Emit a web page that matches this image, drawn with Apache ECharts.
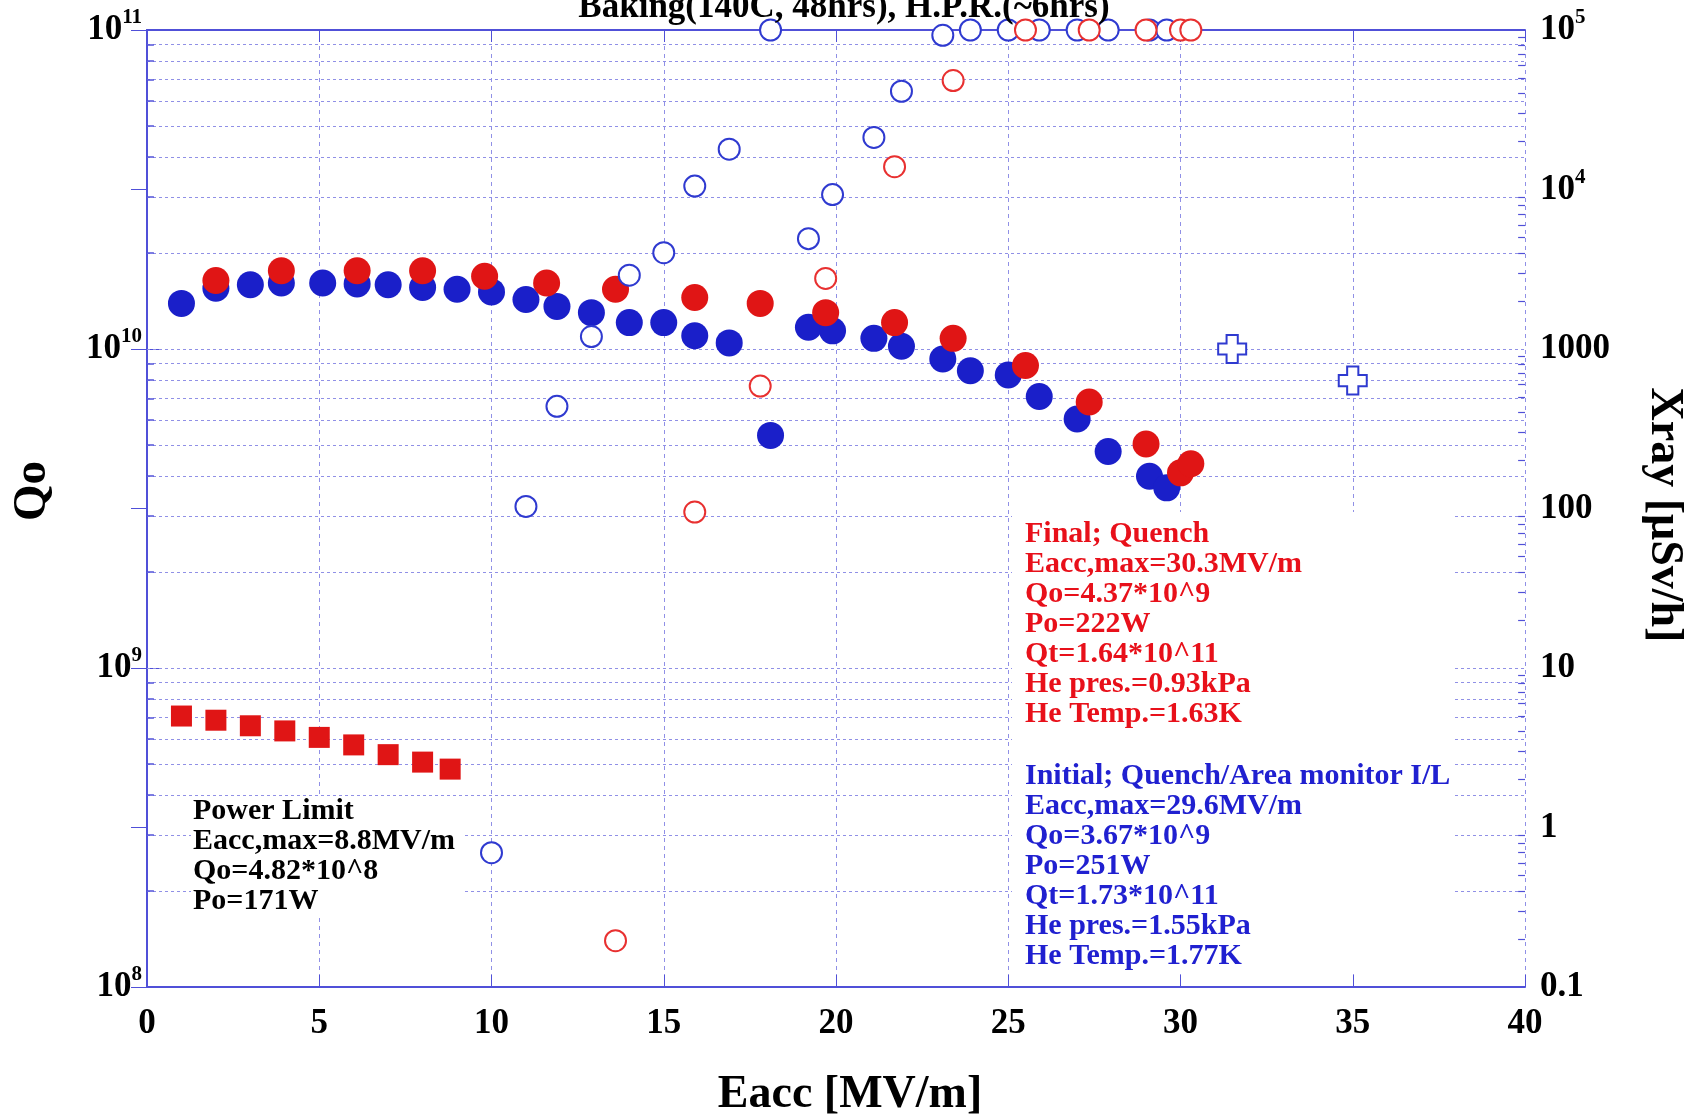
<!DOCTYPE html>
<html>
<head>
<meta charset="utf-8">
<title>Qo / Xray vs Eacc</title>
<script src="https://cdn.jsdelivr.net/npm/echarts@6.0.0/dist/echarts.min.js"></script>
<style>
  html, body { margin: 0; padding: 0; background: #fff; }
  #container { width: 1686px; height: 1117px; }
</style>
</head>
<body>
<div id="container"></div>
<script>
// Initial measurement (blue)
var initialEacc = [1.0, 2.0, 3.0, 3.9, 5.1, 6.1, 7.0, 8.0, 9.0, 10.0, 11.0, 11.9, 12.9, 14.0, 15.0,
                   15.9, 16.9, 18.1, 19.2, 19.9, 21.1, 21.9, 23.1, 23.9, 25.0, 25.9, 27.0, 27.9, 29.1, 29.6];
var initialQo = [1.39e10, 1.55e10, 1.59e10, 1.61e10, 1.61e10, 1.60e10, 1.59e10, 1.56e10, 1.54e10, 1.51e10,
                 1.43e10, 1.36e10, 1.30e10, 1.21e10, 1.21e10, 1.10e10, 1.045e10, 5.36e9, 1.17e10, 1.14e10,
                 1.08e10, 1.02e10, 9.3e9, 8.55e9, 8.29e9, 7.1e9, 6.03e9, 4.77e9, 3.99e9, 3.67e9];
var initialXray = [null, null, null, null, null, null, null, null, null, 0.695,
                   103, 437, 1197, 2903, 4018, 10500, 17900, 100000, 4920, 9290,
                   21200, 41300, 92600, 100000, 100000, 100000, 100000, 100000, 100000, 100000];

// Final measurement (red)
var finalEacc = [2.0, 3.9, 6.1, 8.0, 9.8, 11.6, 13.6, 15.9, 17.8, 19.7, 21.7, 23.4, 25.5, 27.35, 29.0, 30.0, 30.3];
var finalQo = [1.64e10, 1.76e10, 1.76e10, 1.76e10, 1.69e10, 1.61e10, 1.54e10, 1.45e10, 1.39e10, 1.30e10,
               1.21e10, 1.08e10, 8.88e9, 6.82e9, 5.04e9, 4.09e9, 4.37e9];
var finalXray = [null, null, null, null, null, null, 0.195, 95, 586, 2770, 13900, 48200,
                 100000, 100000, 100000, 100000, 100000];

// Power limit (red squares)
var powerEacc = [1.0, 2.0, 3.0, 4.0, 5.0, 6.0, 7.0, 8.0, 8.8];
var powerQo = [7.07e8, 6.86e8, 6.59e8, 6.35e8, 6.06e8, 5.74e8, 5.35e8, 5.07e8, 4.82e8];

// Area monitor (blue crosses)
var monitorEacc = [31.5, 35.0];
var monitorXray = [1000, 634];

var finalText = ['Final; Quench', 'Eacc,max=30.3MV/m', 'Qo=4.37*10^9', 'Po=222W',
                 'Qt=1.64*10^11', 'He pres.=0.93kPa', 'He Temp.=1.63K'];
var initialText = ['Initial; Quench/Area monitor I/L', 'Eacc,max=29.6MV/m', 'Qo=3.67*10^9', 'Po=251W',
                   'Qt=1.73*10^11', 'He pres.=1.55kPa', 'He Temp.=1.77K'];
var powerText = ['Power Limit', 'Eacc,max=8.8MV/m', 'Qo=4.82*10^8', 'Po=171W'];

var FONT = '"Liberation Serif", "Times New Roman", serif';
var BLUE = '#1a1fc9';
var RED = '#e01515';
var AXIS = '#5050d8';
var GRID = '#9090e6';

function pairs(xs, ys) {
    var out = [];
    for (var i = 0; i < xs.length; i++) {
        if (ys[i] != null) out.push([xs[i], ys[i]]);
    }
    return out;
}

// log minor positions for grid lines and ticks
var leftLines = [], leftTicks = [], rightTicks = [];
for (var k = 8; k <= 10; k++) {
    for (var m = 1; m <= 9; m++) {
        if (m > 1 || k > 8) leftLines.push({ yAxis: m * Math.pow(10, k) });
        if (m > 1) leftTicks.push([{ coord: [0, m * Math.pow(10, k)] }, { coord: [0.2, m * Math.pow(10, k)] }]);
    }
}
for (var k2 = -1; k2 <= 4; k2++) {
    for (var m2 = 2; m2 <= 9; m2++) {
        var v = m2 * Math.pow(10, k2);
        rightTicks.push([{ coord: [39.8, v] }, { coord: [40, v] }]);
    }
}

var labelRich = {
    b: { fontFamily: FONT, fontWeight: 'bold', fontSize: 35, color: '#000' },
    s: { fontFamily: FONT, fontWeight: 'bold', fontSize: 21, color: '#000', lineHeight: 21, padding: [0, 0, 24, 0] }
};

var dom = document.getElementById('container');
var myChart = echarts.init(dom, null, { renderer: 'canvas' });

var option = {
    animation: false,
    backgroundColor: '#fff',
    grid: { left: 147, right: 161, top: 30, bottom: 130 },
    xAxis: [{
        type: 'value', min: 0, max: 40, interval: 5,
        axisLine: { lineStyle: { color: AXIS, width: 2 } },
        axisTick: { inside: true, length: 12, lineStyle: { color: AXIS } },
        axisLabel: { margin: 19, fontFamily: FONT, fontWeight: 'bold', fontSize: 35, color: '#000' },
        splitLine: { show: true, lineStyle: { color: GRID, type: [4, 4], width: 1 } }
    }, {
        type: 'value', position: 'top', min: 0, max: 40, interval: 5,
        axisLine: { lineStyle: { color: AXIS, width: 2 } },
        axisTick: { inside: true, length: 12, lineStyle: { color: AXIS } },
        axisLabel: { show: false },
        splitLine: { show: false }
    }],
    yAxis: [{
        type: 'log', logBase: 10, min: 1e8, max: 1e11, splitNumber: 3,
        axisLine: { show: true, lineStyle: { color: AXIS, width: 2 } },
        axisTick: { show: true, inside: true, length: 12, lineStyle: { color: AXIS } },
        axisLabel: {
            margin: 5,
            formatter: function (val) {
                return '{b|10}{s|' + Math.round(Math.log10(val)) + '}';
            },
            rich: labelRich
        },
        splitLine: { show: false }
    }, {
        type: 'log', logBase: 10, min: 0.1, max: 1e5, splitNumber: 6, position: 'right',
        axisLine: { show: true, lineStyle: { color: AXIS, width: 2 } },
        axisTick: { show: true, inside: true, length: 16, lineStyle: { color: AXIS } },
        axisLabel: {
            margin: 15,
            formatter: function (val) {
                var e = Math.round(Math.log10(val));
                if (e >= 4) return '{b|10}{s|' + e + '}';
                if (e < 0) return '{b|0.1}';
                return '{b|' + Math.pow(10, e) + '}';
            },
            rich: labelRich
        },
        splitLine: { show: false }
    }],
    graphic: [
        { type: 'rect', z: 2, silent: true, shape: { x: 191, y: 797, width: 272, height: 120 }, style: { fill: '#fff' } },
        { type: 'rect', z: 2, silent: true, shape: { x: 1012, y: 512, width: 440, height: 462 }, style: { fill: '#fff' } },
        { type: 'text', z: 4, x: 844, y: 25, style: { text: 'Baking(140C, 48hrs), H.P.R.(~6hrs)', font: 'bold 35px ' + FONT, fill: '#000', align: 'center', verticalAlign: 'bottom' } },
        { type: 'text', z: 4, x: 850, y: 1095, style: { text: 'Eacc [MV/m]', font: 'bold 46px ' + FONT, fill: '#000', align: 'center', verticalAlign: 'middle' } },
        { type: 'text', z: 4, x: 33, y: 491, rotation: Math.PI / 2, style: { text: 'Qo', font: 'bold 47px ' + FONT, fill: '#000', align: 'center', verticalAlign: 'middle' } },
        { type: 'text', z: 4, x: 1664, y: 515, rotation: -Math.PI / 2, style: { text: 'Xray [\u03bcSv/h]', font: 'bold 46px ' + FONT, fill: '#000', align: 'center', verticalAlign: 'middle' } },
        { type: 'text', z: 4, x: 1025, y: 519, style: { text: finalText.join('\n'), font: 'bold 30px ' + FONT, lineHeight: 30, fill: '#e8101a', align: 'left', verticalAlign: 'top' } },
        { type: 'text', z: 4, x: 1025, y: 761, style: { text: initialText.join('\n'), font: 'bold 30px ' + FONT, lineHeight: 30, fill: '#2020d0', align: 'left', verticalAlign: 'top' } },
        { type: 'text', z: 4, x: 193, y: 796, style: { text: powerText.join('\n'), font: 'bold 30px ' + FONT, lineHeight: 30, fill: '#000', align: 'left', verticalAlign: 'top' } }
    ],
    series: [{
        // horizontal log grid lines + left minor ticks
        type: 'line', yAxisIndex: 0, data: [], silent: true,
        markLine: {
            z: 1, silent: true, symbol: ['none', 'none'], label: { show: false }, animation: false,
            lineStyle: { color: GRID, type: [3, 3], width: 1 },
            data: leftLines.concat(leftTicks.map(function (p) {
                return [Object.assign({ lineStyle: { color: AXIS, type: 'solid', width: 1.5 } }, p[0]), p[1]];
            }))
        }
    }, {
        // right axis minor ticks
        type: 'line', yAxisIndex: 1, data: [], silent: true,
        markLine: {
            z: 1, silent: true, symbol: ['none', 'none'], label: { show: false }, animation: false,
            lineStyle: { color: AXIS, type: 'solid', width: 1.2 },
            data: rightTicks
        }
    }, {
        name: 'Initial Qo', type: 'scatter', z: 3, clip: false, yAxisIndex: 0,
        symbol: 'circle', symbolSize: 27,
        itemStyle: { color: BLUE, opacity: 1 },
        data: pairs(initialEacc, initialQo)
    }, {
        name: 'Final Qo', type: 'scatter', z: 3, clip: false, yAxisIndex: 0,
        symbol: 'circle', symbolSize: 27,
        itemStyle: { color: RED, opacity: 1 },
        data: pairs(finalEacc, finalQo)
    }, {
        name: 'Power limit', type: 'scatter', z: 3, clip: false, yAxisIndex: 0,
        symbol: 'rect', symbolSize: 21,
        itemStyle: { color: RED, opacity: 1 },
        data: pairs(powerEacc, powerQo)
    }, {
        name: 'Initial Xray', type: 'scatter', z: 3, clip: false, yAxisIndex: 1,
        symbol: 'circle', symbolSize: 21,
        itemStyle: { color: '#fff', borderColor: '#2f3ad0', borderWidth: 2, opacity: 1 },
        data: pairs(initialEacc, initialXray)
    }, {
        name: 'Final Xray', type: 'scatter', z: 3, clip: false, yAxisIndex: 1,
        symbol: 'circle', symbolSize: 21,
        itemStyle: { color: '#fff', borderColor: '#e83030', borderWidth: 2, opacity: 1 },
        data: pairs(finalEacc, finalXray)
    }, {
        name: 'Area monitor', type: 'scatter', z: 3, clip: false, yAxisIndex: 1,
        symbol: 'path://M-2,-5H2V-2H5V2H2V5H-2V2H-5V-2H-2Z', symbolSize: 28,
        itemStyle: { color: '#fff', borderColor: '#2f3ad0', borderWidth: 2, opacity: 1 },
        data: pairs(monitorEacc, monitorXray)
    }]
};

myChart.setOption(option);
window.addEventListener('resize', myChart.resize);
</script>
</body>
</html>
